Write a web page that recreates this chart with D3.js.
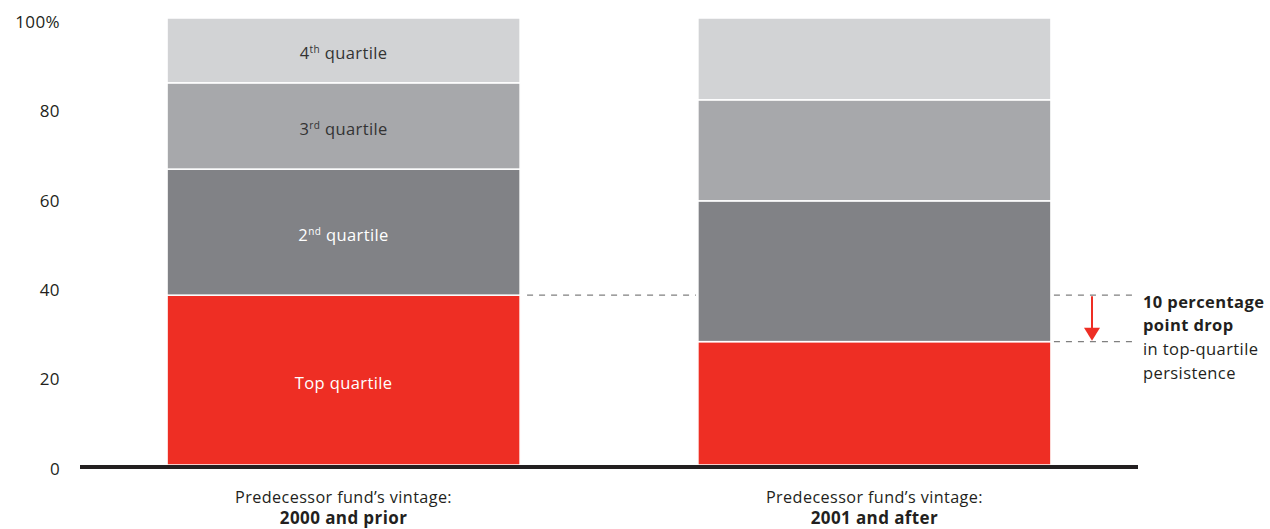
<!DOCTYPE html>
<html>
<head>
<meta charset="utf-8">
<script src="https://cdn.jsdelivr.net/npm/d3@7"></script>
<style>
  body { margin: 0; background: #fff; }
  svg { display: block; font-family: "Open Sans", sans-serif; letter-spacing: 0.4px; }
</style>
</head>
<body>
<svg id="chart" width="1270" height="529"></svg>
<script>
// data
const groups = ["2000 and prior", "2001 and after"];
const groupPrefix = "Predecessor fund\u2019s vintage:";
const quartiles = ["Top", "2nd", "3rd", "4th"];
const topQuartile = [38, 27.6];
const secondQuartile = [28.2, 31.5];
const thirdQuartile = [19.3, 22.6];
const fourthQuartile = [14.5, 18.3];
const yTicks = [0, 20, 40, 60, 80, 100];
const segLabels = [
  { base: "Top quartile", sup: "" },
  { base: "2", sup: "nd", rest: " quartile" },
  { base: "3", sup: "rd", rest: " quartile" },
  { base: "4", sup: "th", rest: " quartile" }
];
const colors = ["#ee2e24", "#818286", "#a7a8ab", "#d2d3d5"];
const textColors = ["#fff", "#fff", "#333", "#333"];

const svg = d3.select("#chart");

const y = d3.scaleLinear().domain([0, 100]).range([465, 18]);
const x = d3.scaleBand().domain(groups).range([80, 1138]).paddingInner(0.335).paddingOuter(0.164);

const rows = groups.map((g, i) => ({
  group: g,
  Top: topQuartile[i], "2nd": secondQuartile[i], "3rd": thirdQuartile[i], "4th": fourthQuartile[i]
}));
const series = d3.stack().keys(quartiles)(rows);

// y axis labels
const yAxis = svg.append("g").attr("transform", "translate(60,0)")
  .call(d3.axisLeft(y).tickValues(yTicks).tickSize(0).tickPadding(0)
    .tickFormat(d => d === 100 ? "100%" : d));
yAxis.select(".domain").remove();
yAxis.selectAll("text").attr("font-size", 17).attr("fill", "#231f20")
  .attr("font-family", "Open Sans, sans-serif").attr("dy", "0.55em");

// bars
series.forEach((s, k) => {
  svg.append("g").selectAll("rect").data(s).join("rect")
    .attr("x", d => x(d.data.group))
    .attr("width", x.bandwidth())
    .attr("y", d => y(d[1]))
    .attr("height", d => y(d[0]) - y(d[1]))
    .attr("fill", colors[k])
    .attr("stroke", "#fff").attr("stroke-width", 1.5);
});

// segment labels on first bar
series.forEach((s, k) => {
  const d = s[0];
  const t = svg.append("text")
    .attr("x", x(d.data.group) + x.bandwidth() / 2)
    .attr("y", (y(d[0]) + y(d[1])) / 2 + 9)
    .attr("text-anchor", "middle")
    .attr("font-size", 16.5)
    .attr("fill", textColors[k]);
  const lab = segLabels[k];
  t.append("tspan").text(lab.base);
  if (lab.sup) {
    t.append("tspan").text(lab.sup).attr("font-size", 10).attr("dy", -6);
    t.append("tspan").text(lab.rest).attr("dy", 6);
  }
});

// baseline
svg.append("line")
  .attr("x1", 80).attr("x2", 1138)
  .attr("y1", y(0) + 2).attr("y2", y(0) + 2)
  .attr("stroke", "#231f20").attr("stroke-width", 4);

// category labels
groups.forEach(g => {
  const cx = x(g) + x.bandwidth() / 2;
  svg.append("text").attr("x", cx).attr("y", 503).attr("text-anchor", "middle")
    .attr("font-size", 16.2).attr("fill", "#231f20").text(groupPrefix);
  svg.append("text").attr("x", cx).attr("y", 524).attr("text-anchor", "middle")
    .attr("font-size", 17).attr("font-weight", "bold").attr("fill", "#231f20").text(g);
});

// dashed reference lines
const yOld = y(topQuartile[0]), yNew = y(topQuartile[1]);
const bar1Right = x(groups[0]) + x.bandwidth();
const bar2Left = x(groups[1]), bar2Right = x(groups[1]) + x.bandwidth();
const dash = { stroke: "#808080", "stroke-width": 1.2, "stroke-dasharray": "6,6" };
function dashed(x1, x2, yy) {
  const l = svg.append("line").attr("x1", x1).attr("x2", x2).attr("y1", yy).attr("y2", yy);
  Object.entries(dash).forEach(([k, v]) => l.attr(k, v));
}
dashed(bar1Right + 7, bar2Left - 2, yOld);
dashed(bar2Right + 3, 1135, yOld);
dashed(bar2Right + 3, 1135, yNew);

// arrow
const ax = 1092;
svg.append("line").attr("x1", ax).attr("x2", ax).attr("y1", yOld + 1).attr("y2", yNew - 12)
  .attr("stroke", "#ee2e24").attr("stroke-width", 2);
svg.append("path")
  .attr("d", `M${ax - 8},${yNew - 14} L${ax + 8},${yNew - 14} L${ax},${yNew - 1} Z`)
  .attr("fill", "#ee2e24");

// annotation
const ann = [
  { t: "10 percentage", b: true, y: 308 },
  { t: "point drop", b: true, y: 331 },
  { t: "in top-quartile", b: false, y: 355 },
  { t: "persistence", b: false, y: 379 }
];
ann.forEach(a => {
  svg.append("text").attr("x", 1143).attr("y", a.y)
    .attr("font-size", 16.5).attr("font-weight", a.b ? "bold" : "normal")
    .attr("fill", "#231f20").text(a.t);
});
</script>
</body>
</html>
